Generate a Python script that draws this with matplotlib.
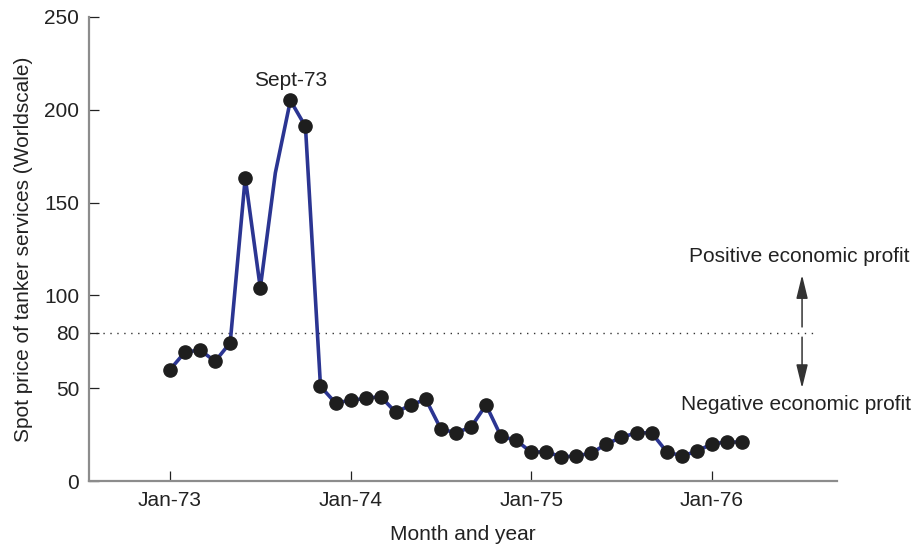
import matplotlib
matplotlib.use("Agg")
import matplotlib.pyplot as plt

plt.rcParams['font.family'] = ['Liberation Sans', 'DejaVu Sans']

# months counted from Jan-73
months = list(range(0, 39))
prices = [60, 69.5, 70.5, 64.5, 74.5, 163.5, 104, 166, 205, 191,
          51, 42, 43.5, 44.5, 45.5, 37, 41, 44, 28, 26,
          29, 41, 24, 22, 15.5, 15.8, 13, 13.5, 15, 20,
          23.5, 26, 26, 15.8, 13.5, 16, 20, 21, 21]
no_marker = [7]   # vertex without a dot

tick_months = [0, 12, 24, 36]
tick_labels = ['Jan-73', 'Jan-74', 'Jan-75', 'Jan-76']
y_ticks = [0, 50, 80, 100, 150, 200, 250]
breakeven = 80

FS = 15
TXT = '#222222'

fig = plt.figure(figsize=(9.17, 5.46), dpi=100)
ax = fig.add_axes([0.0971, 0.119, 0.8153, 0.85])

marked = [i for i in range(len(months)) if i not in no_marker]
ax.plot(months, prices, color='#2b3592', lw=2.6, zorder=2)
ax.plot([months[i] for i in marked], [prices[i] for i in marked], 'o',
        color='#1e1e1e', ms=9.5, zorder=3)

ax.plot([-5.38, 42.8], [breakeven, breakeven], color='#333333', lw=1,
        linestyle=(0, (1, 4)), zorder=1)

arrow = dict(arrowstyle='-|>,head_length=0.9,head_width=0.22',
             color='#333333', lw=1.1, mutation_scale=16,
             shrinkA=0, shrinkB=0)
ax.annotate('', xy=(42.0, 111), xytext=(42.0, 83), arrowprops=arrow)
ax.annotate('', xy=(42.0, 50), xytext=(42.0, 77.5), arrowprops=arrow)
ax.text(41.8, 121, 'Positive economic profit', ha='center', va='center',
        fontsize=FS, color=TXT)
ax.text(41.6, 41, 'Negative economic profit', ha='center', va='center',
        fontsize=FS, color=TXT)
ax.text(8, 216, 'Sept-73', ha='center', va='center', fontsize=FS,
        color=TXT)

ax.set_xlim(-5.38, 44.3)
ax.set_ylim(0, 250)
ax.set_xticks(tick_months)
ax.set_xticklabels(tick_labels)
ax.set_yticks(y_ticks)

for s in ['top', 'right']:
    ax.spines[s].set_visible(False)
for s in ['left', 'bottom']:
    ax.spines[s].set_color('#8c8c8c')
    ax.spines[s].set_linewidth(1.6)

ax.tick_params(direction='in', length=7, width=0.9, color=TXT,
               labelsize=FS, labelcolor=TXT)
ax.tick_params(axis='x', pad=7)
ax.tick_params(axis='y', pad=7)

ax.set_xlabel('Month and year', fontsize=FS, color=TXT, labelpad=11)
ax.set_ylabel('Spot price of tanker services (Worldscale)', fontsize=FS,
              color=TXT, labelpad=8)

fig.savefig('out.png', dpi=100)
